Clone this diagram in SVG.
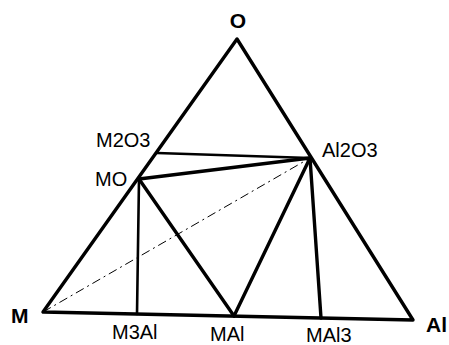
<svg xmlns="http://www.w3.org/2000/svg" width="449" height="345" viewBox="0 0 449 345">
<style>
.e{stroke:#000;stroke-width:3.4;fill:none;stroke-linecap:round;stroke-linejoin:round}
.t{stroke:#000;stroke-width:2.6;fill:none;stroke-linecap:round}
.d{stroke:#000;stroke-width:1;fill:none;stroke-dasharray:9 4 2 4}
.l{font-family:"Liberation Sans",Arial,sans-serif;font-size:20px;fill:#000}
.b{font-family:"Liberation Sans",Arial,sans-serif;font-size:21px;font-weight:bold;fill:#000}
</style>
<rect width="449" height="345" fill="#fff"/>
<g id="connectors">
<polygon class="e" points="237,39 43,312 413,320"/>
<line class="t" x1="157" y1="153" x2="310" y2="158"/>
<line class="e" x1="139" y1="179" x2="310" y2="158"/>
<line class="t" x1="139" y1="179" x2="137" y2="314"/>
<line class="e" x1="139" y1="179" x2="234" y2="316"/>
<line class="e" x1="310" y1="158" x2="234" y2="316"/>
<line class="e" x1="310" y1="158" x2="321" y2="318"/>
<line class="d" x1="43" y1="312" x2="310" y2="158"/>
</g>
<g id="node-O"><text class="b" x="238" y="28" text-anchor="middle">O</text></g>
<g id="node-M2O3"><text class="l" x="96" y="147">M2O3</text></g>
<g id="node-MO"><text class="l" x="95" y="186">MO</text></g>
<g id="node-Al2O3"><text class="l" x="322" y="157">Al2O3</text></g>
<g id="node-M"><text class="b" x="11" y="323">M</text></g>
<g id="node-Al"><text class="b" x="426" y="332">Al</text></g>
<g id="node-M3Al"><text class="l" x="112" y="339">M3Al</text></g>
<g id="node-MAl"><text class="l" x="210" y="341">MAl</text></g>
<g id="node-MAl3"><text class="l" x="306" y="342">MAl3</text></g>
</svg>
